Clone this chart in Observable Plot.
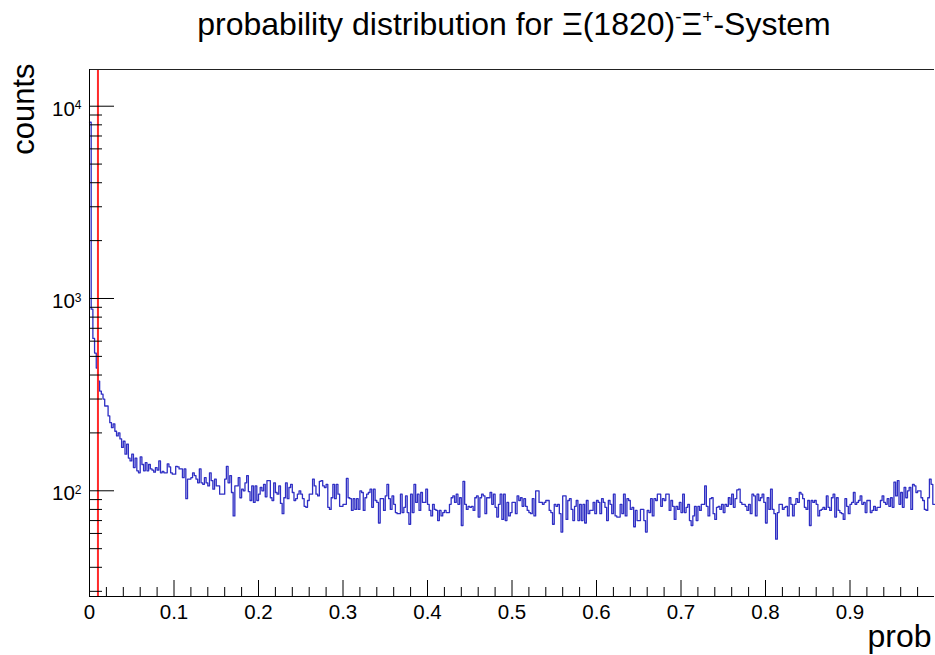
<!DOCTYPE html>
<html>
<head>
<meta charset="utf-8">
<script src="https://cdn.jsdelivr.net/npm/d3@7"></script>
<script src="https://cdn.jsdelivr.net/npm/@observablehq/plot@0.6"></script>
<style>
  body { margin: 0; background: #fff; }
  #title { position: relative; width: 935px; height: 50px; font-family: "Liberation Sans", Arial, sans-serif; }
  #title div { position: absolute; left: 93px; width: 842px; top: 8px; text-align: center; font-size: 32px; line-height: 32px; color: #000; white-space: nowrap; }
  #title sup { font-size: 19px; line-height: 0; vertical-align: 12px; }
  #chart svg { display: block; }
</style>
</head>
<body>
<div id="title"><div>probability distribution for Ξ(1820)<sup>-</sup>Ξ<sup>+</sup>-System</div></div>
<div id="chart"></div>
<script>
// ---- data (bin contents, 500 bins over [0,1]) ----
const countsHead = [
  8250, 880, 620, 520, 435, 372, 330, 318, 300, 276,
  276, 245, 226, 213, 223, 204, 193, 200, 186, 168,
  181, 155, 175, 148, 143, 155, 132, 148, 127, 124,
  150, 137, 127, 140, 127, 137, 130, 128, 125, 132,
  128
];
const countsA = [
  143,124,126,124,124,138,133,124,122,122,
  134,133,130,130,117,130,91,115,115,117,
  124,120,115,110,130,110,108,117,110,106,
  124,113,102,115,106,106,96,96,96,115,
  134,110,120,98,74,106,106,117,92,102,
  100,110,120,99,89,106,87,106,89,96,
  104,100,108,93,113,113,92,89,110,98,
  96,106,86,76,92,110,91,104,108,98,
  89,91,96,100,96,91,83
];
const countsB = [
  82,89,96,96,115,106,96,94,112,113,
  106,104,108,82,80,92,108,91,108,96,
  83,83,85,85,116,92,91,79,91,80,
  91,80,100,98,79,92,96,98,102,82,
  102,89,87,68,91,91,79,94,108,91,
  80,94,85,77,76,76,96,77,82,94,
  77,67,96,77,108,87,96,79,98,87,
  87,102,85,79,74,85,80,79,70,79,
  74,77,79,77
];
const countsC = [
  77,85,92,94,87,96,85,92,66,112,
  85,80,83,82,83,79,92,94,73,92,
  96,94,76,92,92,98,85,96,82,73,
  85,96,71,96,70,87,74,77,87,87,
  76,94,89,92,83,91,83,79,77,76,
  91,74,100,100,87,87,85,87,89,89,
  79,77,67,85,83,85,76,61,94,94,
  71,89,91,80,70,83,89,70,85,70,
  85,68,89,76
];
const countsD = [
  79,79,87,76,89,87,76,91,87,82,
  70,89,85,76,96,74,73,73,85,76,
  96,74,91,89,80,82,65,79,70,70,
  80,80,70,61,79,77,91,74,91,89,
  96,96,83,91,89,96,96,79,89,83,
  71,83,80,87,77,96,77,82,85,70,
  66,74,83,70,83,79,85,85,106,83,
  74,91,92,76,71,82,83,80,85,77,
  85,83,92,85
];
const countsE = [
  96,82,91,101,102,87,85,85,83,79,
  85,76,96,94,74,96,89,92,96,87,
  68,92,80,102,80,76,56,77,85,85,
  80,82,83,74,92,85,74,85,91,87,
  98,96,91,82,80,89,66,89,87,89,
  85,74,79,80,82,80,94,82,79,92,
  96,73,92,79,77,76,71,91,83,76,
  85,87,98,85,87,89,94,85,87,77,
  89,89,77,79
];
const countsF = [
  83,79,82,82,89,94,87,85,91,83,
  92,82,111,94,113,85,98,82,104,92,
  100,104,80,108,106,98,100,100,92,89,
  80,79,92,115,108,85
];
const xDomain = [0, 1];
const yDomain = [28.2, 15520];
const cutValue = 0.01;
const xMajor = [0, 0.1, 0.2, 0.3, 0.4, 0.5, 0.6, 0.7, 0.8, 0.9];
const xMinor = [0.02,0.04,0.06,0.08,0.12,0.14,0.16,0.18,0.22,0.24,0.26,0.28,0.32,0.34,0.36,0.38,
                0.42,0.44,0.46,0.48,0.52,0.54,0.56,0.58,0.62,0.64,0.66,0.68,0.72,0.74,0.76,0.78,
                0.82,0.84,0.86,0.88,0.92,0.94,0.96,0.98];
const yMajor = [100, 1000, 10000];
const yMinor = [30,40,50,60,70,80,90,200,300,400,500,600,700,800,900,2000,3000,4000,5000,6000,7000,8000,9000];
const xTitle = "prob";
const yTitle = "counts";

// ---- build ----
const counts = [].concat(countsHead, countsA, countsB, countsC, countsD, countsE, countsF);
const nBins = counts.length;
const bw = (xDomain[1] - xDomain[0]) / nBins;
const steps = counts.map((c, i) => ({x: xDomain[0] + i * bw, y: c}));
steps.push({x: xDomain[1], y: counts[nBins - 1]});

const W = 935, H = 605, mL = 89, mR = 1, mT = 19, mB = 59;
const plotW = W - mL - mR, plotH = H - mT - mB;

const svg = Plot.plot({
  width: W, height: H,
  marginLeft: mL, marginRight: mR, marginTop: mT, marginBottom: mB,
  style: {fontFamily: "'Liberation Sans', Arial, sans-serif", fontSize: "20px", color: "#000", background: "#fff", overflow: "visible"},
  x: {domain: xDomain},
  y: {type: "log", domain: yDomain},
  marks: [
    Plot.lineY(steps, {x: "x", y: "y", curve: "step-after", stroke: "#2f2fc4", strokeWidth: 1.3}),
    Plot.ruleX([cutValue], {stroke: "#ff2a2a", strokeWidth: 2}),
    Plot.tickX(xMajor, {x: d => d, insetTop: plotH - 16, stroke: "#000"}),
    Plot.tickX(xMinor, {x: d => d, insetTop: plotH - 9, stroke: "#000"}),
    Plot.tickY(yMajor, {y: d => d, insetRight: plotW - 25, stroke: "#000"}),
    Plot.tickY(yMinor, {y: d => d, insetRight: plotW - 13, stroke: "#000"}),
    Plot.ruleY([yDomain[1]], {stroke: "#222"}),
    Plot.ruleY([yDomain[0]], {stroke: "#000"}),
    Plot.ruleX([xDomain[0]], {stroke: "#000"}),
    Plot.axisX({ticks: xMajor, tickSize: 0, tickPadding: 8, tickFormat: d => String(d), label: null, fontSize: 20.5}),
    Plot.axisY({ticks: yMajor, tickSize: 0, tickPadding: 8, tickFormat: d => "10^" + Math.round(Math.log10(d)), label: null, fontSize: 20.5, dy: 3}),
    Plot.text([yTitle], {frameAnchor: "top-left", rotate: -90, textAnchor: "end", lineAnchor: "bottom", dx: -56, dy: -6, fontSize: 31}),
    Plot.text([xTitle], {frameAnchor: "bottom-right", textAnchor: "end", lineAnchor: "bottom", dx: -3, dy: 50, fontSize: 32})
  ]
});

// superscript exponents on the y tick labels
d3.select(svg).selectAll('g[aria-label="y-axis tick label"] text').each(function() {
  const t = this.textContent;
  const m = t.match(/^(\d+)\^(\d+)$/);
  if (!m) return;
  const sel = d3.select(this);
  sel.text(m[1]);
  sel.append("tspan").attr("dy", "-6.5").attr("font-size", 12).text(m[2]);
});

document.getElementById("chart").appendChild(svg);
</script>
</body>
</html>
